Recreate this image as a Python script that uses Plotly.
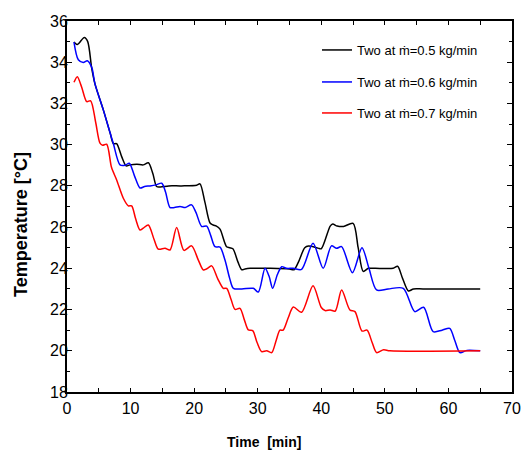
import plotly.graph_objects as go

# ---- data ----
t_black = [1.1, 1.62, 2.72, 3.26, 3.89, 4.4, 5.7, 6.8, 7.3, 7.8, 8.6, 9.3, 9.9, 11.0, 12.0, 12.8,
           13.5, 14.1, 14.7, 16.0, 18.0, 20.4, 20.92, 21.7, 22.5, 23.0, 23.5, 24.07, 25.1, 25.6,
           26.1, 26.9, 27.5, 28.0, 28.8, 32.0, 35.0, 35.7, 36.4, 37.4, 38.0, 39.5, 40.0, 41.4,
           41.8, 42.5, 43.5, 45.0, 45.8, 46.6, 47.4, 48.5, 51.3, 52.0, 52.8, 53.7, 54.5, 56.0, 65.0]
T_black = [34.98, 34.86, 35.2, 35.0, 33.7, 32.95, 31.7, 30.55, 30.05, 30.05, 29.42, 28.97, 29.02,
           29.05, 29.02, 29.12, 28.6, 27.97, 27.95, 28.0, 28.0, 28.03, 28.1, 27.2, 26.2, 26.1,
           26.05, 25.9, 25.05, 25.0, 24.95, 24.3, 23.93, 23.97, 24.0, 24.0, 23.97, 23.93, 24.3,
           25.0, 25.08, 24.98, 24.95, 26.05, 26.15, 26.05, 26.03, 26.18, 25.0, 23.85, 24.0, 24.0,
           24.0, 24.1, 23.5, 22.9, 23.0, 23.0, 23.0]

t_blue = [1.1, 1.78, 2.56, 3.19, 3.89, 4.4, 5.7, 6.8, 7.3, 8.34, 9.13, 9.8, 10.6, 11.48, 12.2,
          13.06, 14.0, 14.9, 15.5, 16.2, 16.9, 17.78, 18.6, 19.6, 20.3, 21.19, 21.97, 22.6,
          23.28, 24.07, 24.85, 25.6, 26.17, 27.5, 29.3, 30.1, 31.15, 31.8, 32.35, 33.1, 33.77,
          34.5, 35.6, 36.9, 38.7, 40.3, 41.6, 42.4, 43.2, 44.9, 46.4, 47.5, 48.7, 50.5, 52.9,
          54.7, 56.1, 57.6, 59.0, 60.2, 61.0, 61.8, 62.9, 65.0]
T_blue = [34.98, 34.12, 33.99, 34.07, 33.75, 32.95, 31.7, 30.55, 30.04, 29.02, 29.0, 29.1, 28.5,
          27.9, 27.97, 28.0, 28.05, 28.13, 27.7, 26.95, 26.95, 27.0, 26.95, 27.08, 26.7, 26.03,
          26.05, 25.6, 25.05, 25.03, 24.4, 23.5, 23.03, 23.0, 23.03, 22.85, 24.0, 23.6, 23.03,
          23.7, 24.08, 24.0, 24.0, 23.95, 25.22, 24.0, 25.09, 24.97, 25.05, 23.79, 25.0, 24.0,
          22.95, 23.0, 23.03, 21.9, 22.11, 20.93, 21.0, 21.09, 20.5, 19.91, 20.02, 20.0]

t_red = [1.1, 1.62, 2.3, 3.1, 3.72, 4.5, 5.19, 5.6, 6.24, 7.0, 7.81, 8.86, 9.65, 10.17, 10.8,
         11.48, 12.0, 12.79, 13.7, 14.37, 15.42, 16.2, 17.25, 18.4, 19.6, 20.66, 21.45, 22.0,
         22.76, 23.7, 24.59, 25.12, 25.8, 26.43, 27.21, 27.9, 28.52, 29.21, 29.9, 30.62, 31.41,
         32.2, 32.9, 33.5, 34.0, 34.8, 35.6, 36.9, 38.7, 40.0, 40.6, 41.4, 42.2, 43.2, 44.5,
         45.3, 46.4, 47.2, 48.0, 48.7, 49.8, 50.8, 65.0]
T_red = [33.03, 33.3, 32.8, 32.09, 32.13, 31.1, 30.07, 29.97, 30.02, 28.9, 28.29, 27.4, 27.03,
         27.03, 26.4, 25.86, 25.95, 26.1, 25.4, 24.93, 24.97, 24.89, 25.98, 24.87, 25.09, 24.4,
         23.92, 23.98, 24.12, 23.5, 23.03, 23.03, 22.5, 22.01, 22.06, 21.5, 21.01, 20.98, 20.4,
         19.96, 20.0, 19.91, 20.5, 21.0, 21.0, 21.6, 22.12, 21.87, 23.15, 22.1, 21.95, 21.98,
         21.93, 22.95, 21.98, 21.9, 20.96, 21.0, 20.4, 19.91, 20.05, 20.0, 20.0]

names = ["Two at \u1e41=0.5 kg/min", "Two at \u1e41=0.6 kg/min", "Two at \u1e41=0.7 kg/min"]
colors = ["#000000", "#0000ff", "#ff0000"]
x_ticks = [0, 10, 20, 30, 40, 50, 60, 70]
y_ticks = [18, 20, 22, 24, 26, 28, 30, 32, 34, 36]

FONT = "Arial, 'Liberation Sans', sans-serif"

fig = go.Figure()
series = [(t_black, T_black), (t_blue, T_blue), (t_red, T_red)]
legends = ["legend", "legend2", "legend3"]
for (tx, ty), nm, c, lg in zip(series, names, colors, legends):
    fig.add_trace(go.Scatter(x=tx, y=ty, mode="lines", name=nm, legend=lg, showlegend=True,
                             line=dict(color=c, width=1.5, shape="spline", smoothing=0.8)))

L, R, T, B = 67, 14, 21, 58
W, H = 526, 450
pw, ph = W - L - R, H - T - B

def px2x(px):
    return (px - L) / pw

def py2y(py):
    return (H - B - py) / ph

leg_common = dict(font=dict(family=FONT, size=13, color="#000"), bgcolor="rgba(0,0,0,0)",
                  borderwidth=0, xanchor="left", yanchor="middle", itemwidth=30)
fig.update_layout(
    showlegend=True,
    legend=dict(x=px2x(317), y=py2y(50), **leg_common),
    legend2=dict(x=px2x(317), y=py2y(82), **leg_common),
    legend3=dict(x=px2x(317), y=py2y(113), **leg_common),
)

axis_common = dict(showline=True, linecolor="#000", linewidth=2, mirror="ticks",
                   ticks="inside", tickcolor="#000", showgrid=False, zeroline=False,
                   automargin=False,
                   tickfont=dict(family=FONT, size=16, color="#000"))
fig.update_xaxes(range=[0, 70], tickvals=x_ticks, ticklen=4, tickwidth=1,
                 ticklabelstandoff=1,
                 minor=dict(dtick=5, ticks="inside", ticklen=4, tickcolor="#000", tickwidth=1),
                 **axis_common)
fig.update_yaxes(range=[18, 36], tickvals=y_ticks, ticklen=5, tickwidth=1,
                 ticklabelstandoff=-6,
                 minor=dict(dtick=1, ticks="inside", ticklen=3, tickcolor="#000", tickwidth=1),
                 **axis_common)

fig.update_layout(
    width=W, height=H, margin=dict(l=L, r=R, t=T, b=B, pad=0, autoexpand=False),
    paper_bgcolor="white", plot_bgcolor="white",
    annotations=[
        dict(text="<b>Time\u00a0 [min]</b>", xref="paper", yref="paper", x=px2x(264), y=py2y(442),
             xanchor="center", yanchor="middle", showarrow=False,
             font=dict(family=FONT, size=14, color="#000")),
        dict(text="<b>Temperature [\u00b0C]</b>", xref="paper", yref="paper", x=px2x(21.5),
             y=py2y(224.5), xanchor="center", yanchor="middle", showarrow=False, textangle=-90,
             font=dict(family=FONT, size=18, color="#000")),
    ],
)

fig.write_html("out.html")
